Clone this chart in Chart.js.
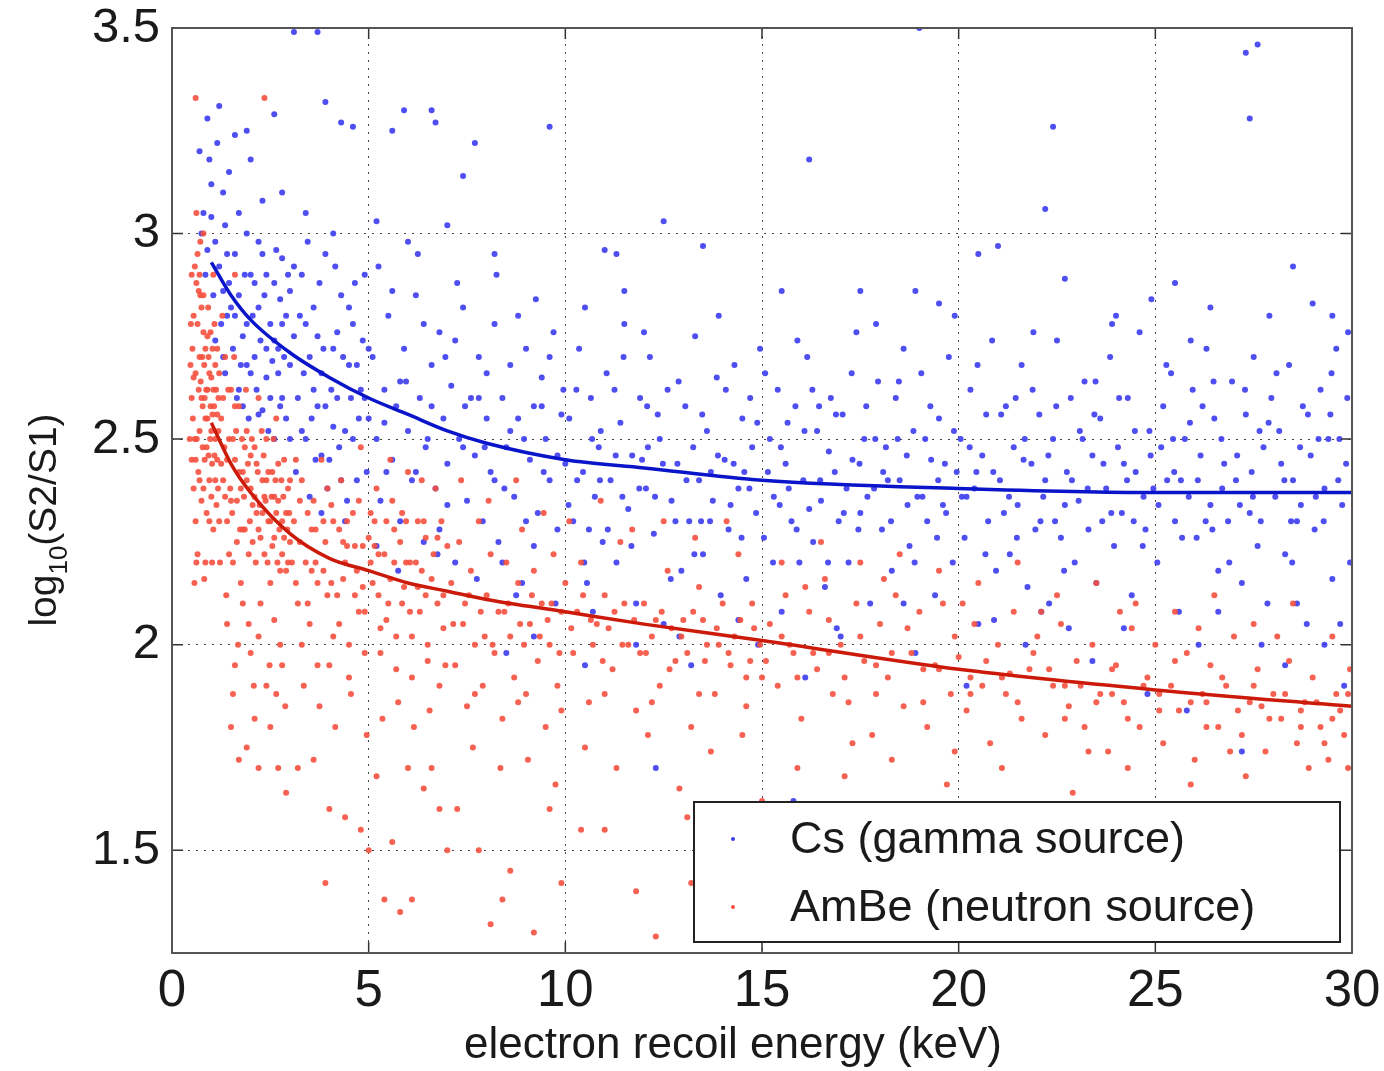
<!DOCTYPE html>
<html>
<head>
<meta charset="utf-8">
<script src="https://cdn.jsdelivr.net/npm/chart.js@4.4.1/dist/chart.umd.min.js"></script>
<style>
  html, body { margin: 0; padding: 0; background: #fff; }
  #wrap { width: 1384px; height: 1071px; }
</style>
</head>
<body>
<div id="wrap"><canvas id="chart" width="1384" height="1071"></canvas></div>
<script>
// axis ticks
const xTicks = [0, 5, 10, 15, 20, 25, 30];
const yTicks = [1.5, 2, 2.5, 3, 3.5];

// Cs (gamma source) events, [energy keV, log10(S2/S1)]
const csPoints = [
  [0.7,3.2],[0.8,3.05],[0.9,3.28],[1.0,3.12],[1.1,2.98],[0.85,2.9],[1.2,3.31],[1.3,3.1],[1.4,2.95],[0.95,3.18],
  [1.05,2.85],[1.25,2.78],[1.35,3.02],[1.45,2.88],[0.75,3.0],[1.15,3.22],[1.5,2.82],[1.3,2.7],[1.1,2.74],[1.45,3.15],
  [0.9,2.96],[1.2,2.92],[1.4,2.8],[1.0,3.04],[1.35,2.66],
  [1.6,3.24],[1.9,3.25],[2.0,3.18],[2.6,3.29],[3.1,3.49],[3.7,3.49],[3.9,3.32],[4.3,3.27],[4.6,3.26],[5.6,3.25],
  [5.9,3.3],[6.6,3.3],[6.7,3.27],[7.4,3.14],[7.7,3.22],[2.3,3.08],[2.8,3.1],[3.4,3.05],[4.1,3.0],[5.2,3.03],
  [6.0,2.98],[7.0,3.02],[8.2,2.95],[9.6,3.26],[12.5,3.03],[13.5,2.97],[11.0,2.96],[11.3,2.95],[16.2,3.18],[19.0,3.5],
  [22.2,3.06],[22.4,3.26],[22.7,2.89],[21.0,2.97],[26.4,2.82],[27.3,3.44],[27.6,3.46],[27.4,3.28],[29.0,2.83],[29.5,2.8],
  [19.5,2.83],[24.0,2.8],[20.5,2.95],[17.5,2.86],[15.5,2.86],[25.5,2.88],[28.5,2.92],
  [1.6,2.95],[1.7,2.85],[1.8,2.75],[1.9,3.0],[2.0,2.9],[2.1,2.7],[2.2,2.82],[2.3,2.95],[2.4,2.65],[2.5,2.78],
  [2.6,2.88],[2.7,2.72],[2.8,2.6],[2.9,2.8],[3.0,2.68],[1.65,2.6],[1.75,2.68],[1.85,2.9],[1.95,2.55],[2.05,2.8],
  [2.15,2.62],[2.25,2.74],[2.35,2.85],[2.45,2.52],[2.55,2.69],[2.65,2.96],[2.75,2.58],[2.85,2.7],[2.95,2.9],[1.55,2.72],
  [1.7,3.05],[2.0,2.66],[2.2,2.98],[2.5,2.6],[2.75,2.84],[2.9,2.55],[1.9,2.78],[2.4,2.9],[2.6,2.5],[2.8,2.94],
  [1.8,2.58],[2.1,2.88],[2.3,2.57],[2.7,2.66],[3.0,2.86],
  [3.1,2.75],[3.2,2.6],[3.3,2.9],[3.4,2.5],[3.5,2.7],[3.6,2.82],[3.7,2.58],[3.8,2.66],[3.9,2.95],[4.0,2.45],
  [4.1,2.72],[4.2,2.6],[4.3,2.85],[4.4,2.52],[4.5,2.68],[4.6,2.78],[4.7,2.4],[4.8,2.62],[4.9,2.9],[5.0,2.55],
  [3.15,2.42],[3.25,2.8],[3.35,2.66],[3.45,2.98],[3.55,2.55],[3.65,2.45],[3.75,2.88],[3.85,2.72],[3.95,2.38],[4.05,2.62],
  [4.15,2.92],[4.25,2.48],[4.35,2.7],[4.45,2.35],[4.55,2.6],[4.65,2.88],[4.75,2.55],[4.85,2.74],[4.95,2.42],[3.1,2.92],
  [3.5,2.36],[3.9,2.58],[4.3,2.4],[4.7,2.68],[3.3,2.52],[3.7,2.75],[4.1,2.53],[4.5,2.82],[4.9,2.6],[3.8,2.32],
  [5.1,2.7],[5.2,2.5],[5.3,2.35],[5.4,2.62],[5.5,2.8],[5.6,2.45],[5.7,2.58],[5.8,2.3],[5.9,2.72],[6.0,2.52],
  [6.1,2.4],[6.2,2.85],[6.3,2.6],[6.4,2.25],[6.5,2.5],[6.6,2.68],[6.7,2.38],[6.8,2.76],[6.9,2.55],[7.0,2.44],
  [7.1,2.63],[7.2,2.2],[7.3,2.5],[7.4,2.82],[7.5,2.35],[7.6,2.6],[7.7,2.46],[7.8,2.7],[7.9,2.3],[8.0,2.55],
  [8.1,2.42],[8.2,2.78],[8.3,2.25],[8.4,2.6],[8.5,2.48],[8.6,2.68],[8.7,2.36],[8.8,2.55],[8.9,2.15],[9.0,2.72],
  [9.1,2.45],[9.2,2.58],[9.3,2.32],[9.4,2.65],[9.5,2.5],[9.6,2.4],[9.7,2.76],[9.8,2.28],[9.9,2.56],[10.0,2.44],
  [5.25,2.92],[5.75,2.18],[6.25,2.95],[6.75,2.22],[7.25,2.88],[7.75,2.16],[8.25,2.9],[8.75,2.12],[9.25,2.84],[9.75,2.1],
  [5.45,2.42],[5.95,2.64],[6.45,2.48],[6.95,2.7],[7.45,2.58],[7.95,2.48],[8.45,2.38],[8.95,2.5],[9.45,2.42],[9.95,2.62],
  [1.3,2.86],[1.6,2.8],[1.9,2.68],[2.2,2.56],[2.6,2.74],[3.0,2.5],[3.4,2.78],[3.8,2.46],[4.2,2.76],[4.6,2.5],
  [5.0,2.72],[5.4,2.54],[5.8,2.64],[6.2,2.42],[6.6,2.58],[7.0,2.34],[7.4,2.48],[7.8,2.6],[8.2,2.4],[8.6,2.52],
  [9.0,2.3],[9.4,2.58],[9.8,2.46],[5.6,2.86],[6.4,2.78],[7.2,2.74],[8.0,2.66],[8.8,2.8],[9.6,2.7],[4.4,2.3],
  [5.2,2.24],[6.8,2.28],[8.4,2.2],[9.2,2.24],[3.6,2.62],[2.4,2.72],[1.7,2.62],[2.8,2.78],
  [10.1,2.55],[10.2,2.3],[10.35,2.72],[10.45,2.42],[10.55,2.15],[10.65,2.6],[10.75,2.36],[10.85,2.48],[10.95,2.25],
  [11.05,2.66],[11.15,2.4],[11.3,2.2],[11.4,2.54],[11.5,2.78],[11.6,2.33],[11.7,2.46],[11.8,2.1],[11.9,2.6],
  [12.05,2.38],[12.15,2.7],[12.25,2.27],[12.4,2.5],[12.5,2.05],[12.6,2.62],[12.7,2.35],[12.85,2.44],[12.95,2.18],
  [13.05,2.58],[13.15,2.3],[13.3,2.75],[13.4,2.4],[13.5,2.22],[13.6,2.52],[13.75,2.35],[13.85,2.65],[13.95,2.12],
  [14.05,2.45],[14.15,2.28],[14.3,2.68],[14.4,2.38],[14.5,2.55],[14.6,2.16],[14.75,2.48],[14.85,2.32],[14.95,2.72],
  [15.05,2.26],[15.2,2.5],[15.3,2.36],[15.4,2.62],[15.5,2.08],[15.6,2.44],[15.75,2.3],[15.85,2.58],[15.95,2.2],
  [16.05,2.4],[16.15,2.7],[16.3,2.25],[16.4,2.52],[16.5,2.35],[16.6,2.14],[16.75,2.6],[16.85,2.42],[16.95,2.3],
  [17.05,2.56],[17.2,2.2],[17.3,2.45],[17.4,2.76],[17.5,2.32],[17.6,2.5],[17.75,2.1],[17.85,2.38],[17.95,2.64],
  [18.05,2.28],[18.15,2.48],[18.3,2.18],[18.4,2.6],[18.5,2.4],[18.6,2.72],[18.75,2.24],[18.85,2.52],[18.95,2.36],
  [19.05,2.66],[19.2,2.3],[19.3,2.45],[19.4,2.12],[19.5,2.55],[19.6,2.34],[19.75,2.7],[19.85,2.2],[19.95,2.42],
  [20.05,2.5],[20.15,2.26],[20.3,2.62],[20.4,2.38],[20.5,2.05],[20.6,2.46],[20.75,2.3],[20.85,2.74],[20.95,2.18],
  [21.05,2.4],[21.2,2.58],[21.3,2.22],[21.4,2.48],[21.5,2.34],[21.6,2.68],[21.75,2.14],[21.85,2.44],[21.95,2.28],
  [22.05,2.56],[22.15,2.36],[22.3,2.1],[22.4,2.5],[22.5,2.74],[22.6,2.26],[22.75,2.42],[22.85,2.6],[22.95,2.2],
  [23.05,2.35],[23.2,2.64],[23.3,2.28],[23.4,2.46],[23.5,2.15],[23.6,2.55],[23.75,2.38],[23.85,2.7],[23.95,2.24],
  [24.05,2.48],[24.15,2.32],[24.3,2.6],[24.4,2.12],[24.5,2.42],[24.6,2.76],[24.75,2.28],[24.85,2.52],[24.95,2.38],
  [25.05,2.2],[25.2,2.58],[25.3,2.4],[25.4,2.66],[25.5,2.3],[25.6,2.08],[25.75,2.5],[25.85,2.36],[25.95,2.62],
  [26.05,2.26],[26.15,2.46],[26.3,2.72],[26.4,2.34],[26.5,2.55],[26.6,2.18],[26.75,2.44],[26.85,2.3],[26.95,2.64],
  [27.05,2.4],[27.2,2.15],[27.3,2.56],[27.4,2.32],[27.5,2.7],[27.6,2.24],[27.75,2.48],[27.85,2.1],[27.95,2.6],
  [28.05,2.36],[28.15,2.52],[28.3,2.22],[28.4,2.68],[28.5,2.4],[28.6,2.3],[28.75,2.58],[28.85,2.05],[28.95,2.46],
  [29.05,2.28],[29.2,2.62],[29.3,2.38],[29.4,2.5],[29.5,2.16],[29.6,2.72],[29.75,2.34],[29.85,2.44],[29.95,2.2],
  [10.3,2.4],[10.9,2.52],[11.45,2.36],[11.95,2.45],[12.35,2.56],[12.8,2.3],[13.25,2.48],[13.7,2.42],[14.2,2.34],[14.7,2.6],
  [15.15,2.42],[15.65,2.54],[16.2,2.33],[16.7,2.47],[17.15,2.38],[17.65,2.58],[18.2,2.4],[18.7,2.34],[19.15,2.5],[19.65,2.44],
  [20.2,2.36],[20.7,2.56],[21.15,2.32],[21.65,2.45],[22.2,2.4],[22.7,2.34],[23.15,2.5],[23.65,2.3],[24.2,2.44],[24.7,2.36],
  [25.15,2.48],[25.65,2.4],[26.2,2.58],[26.7,2.38],[27.15,2.34],[27.65,2.52],[28.2,2.44],[28.7,2.34],[29.15,2.5],[29.65,2.4],
  [10.6,2.28],[11.25,2.62],[12.1,2.48],[13.45,2.3],[14.55,2.42],[15.45,2.34],[16.45,2.58],[17.45,2.28],[18.45,2.5],[19.45,2.26],
  [20.45,2.42],[21.45,2.6],[22.45,2.3],[23.45,2.56],[24.45,2.3],[25.45,2.5],[26.45,2.28],[27.45,2.42],[28.45,2.3],[29.45,2.56],
  [10.08,2.34],[10.28,2.62],[10.48,2.2],[10.68,2.5],[10.88,2.4],[11.08,2.28],[11.28,2.46],[11.48,2.7],[11.68,2.24],[11.88,2.38],
  [12.08,2.58],[12.28,2.36],[12.48,2.44],[12.68,2.16],[12.88,2.64],[13.08,2.4],[13.28,2.22],[13.48,2.56],[13.68,2.3],[13.88,2.46],
  [14.08,2.62],[14.28,2.44],[14.48,2.26],[14.68,2.38],[14.88,2.54],[15.08,2.66],[15.28,2.2],[15.48,2.48],[15.68,2.38],[15.88,2.28],
  [16.08,2.52],[16.28,2.62],[16.48,2.4],[16.68,2.2],[16.88,2.56],[17.08,2.32],[17.28,2.66],[17.48,2.44],[17.68,2.36],[17.88,2.5],
  [18.08,2.42],[18.28,2.3],[18.48,2.64],[18.68,2.46],[18.88,2.2],[19.08,2.36],[19.28,2.58],[19.48,2.4],[19.68,2.32],[19.88,2.52],
  [20.08,2.36],[20.28,2.48],[20.48,2.68],[20.68,2.22],[20.88,2.42],[21.08,2.56],[21.28,2.36],[21.48,2.26],[21.68,2.5],[21.88,2.62],
  [22.08,2.3],[22.28,2.46],[22.48,2.58],[22.68,2.18],[22.88,2.4],[23.08,2.52],[23.28,2.38],[23.48,2.64],[23.68,2.44],[23.88,2.32],
  [24.08,2.6],[24.28,2.4],[24.48,2.52],[24.68,2.24],[24.88,2.46],[25.08,2.34],[25.28,2.68],[25.48,2.42],[25.68,2.26],[25.88,2.54],
  [26.08,2.4],[26.28,2.3],[26.48,2.64],[26.68,2.5],[26.88,2.2],[27.08,2.46],[27.28,2.62],[27.48,2.36],[27.68,2.3],[27.88,2.54],
  [28.08,2.66],[28.28,2.4],[28.48,2.2],[28.68,2.48],[28.88,2.56],[29.08,2.36],[29.28,2.3],[29.48,2.66],[29.68,2.5],[29.88,2.6],
  [10.5,2.82],[12.0,2.76],[13.9,2.8],[15.9,2.74],[17.9,2.78],[19.9,2.8],[21.9,2.76],[23.9,2.78],[25.9,2.74],[27.9,2.8],
  [29.9,2.76],[11.5,2.86],[18.9,2.86],[24.9,2.84],
  [10.7,2.08],[12.9,2.02],[14.4,2.06],[16.9,2.04],[18.6,2.1],[20.9,2.06],[22.1,2.08],[24.2,2.04],[26.6,2.08],[28.6,2.1],
  [29.7,2.05],[27.7,2.0],
  [8.5,1.98],[9.2,2.02],[10.5,1.95],[12.3,1.7],[13.2,1.95],[14.9,2.0],[16.1,1.92],[17.0,2.02],[18.9,1.98],[20.2,1.9],
  [21.7,2.0],[23.4,1.96],[24.8,1.88],[26.1,2.0],[27.2,1.74],[28.3,1.95],[29.3,2.0],[29.8,1.9],[25.8,1.84],[22.8,2.04],
  [15.8,1.62],[11.8,2.0]
];

// AmBe (neutron source) events, [energy keV, log10(S2/S1)]
const ambePoints = [
  [0.5,2.6],[0.55,2.8],[0.6,2.45],[0.65,2.95],[0.7,2.7],[0.75,2.35],[0.8,2.85],[0.85,2.55],[0.9,2.75],[0.95,2.4],
  [1.0,2.65],[1.05,2.9],[1.1,2.5],[1.15,2.72],[1.2,2.3],[0.52,2.72],[0.58,2.5],[0.62,2.88],[0.68,2.62],[0.72,2.98],
  [0.78,2.48],[0.82,2.68],[0.88,2.32],[0.92,2.82],[0.98,2.58],[1.02,2.44],[1.08,2.78],[1.12,2.62],[1.18,2.52],[0.55,2.38],
  [0.65,2.22],[0.75,2.6],[0.85,2.2],[0.95,2.66],[1.05,2.28],[1.15,2.45],[0.6,2.66],[0.7,2.52],[0.8,2.76],[0.9,2.55],
  [1.0,2.36],[1.1,2.68],[0.5,2.9],[0.62,3.05],[0.7,2.9],[0.8,3.0],[0.45,2.5],[0.48,2.78],[0.57,2.15],[0.67,2.42],
  [0.77,2.7],[0.87,2.62],[0.97,2.5],[1.07,2.58],[1.17,2.38],[0.6,3.33],[0.72,2.85],[0.83,2.6],[0.93,2.46],[1.03,2.72],
  [0.5,2.45],[0.55,2.65],[0.6,2.3],[0.65,2.78],[0.7,2.4],[0.75,2.82],[0.8,2.38],[0.85,2.72],[0.9,2.62],[0.95,2.3],
  [1.0,2.52],[1.05,2.62],[1.1,2.4],[1.15,2.56],[1.2,2.66],[1.25,2.44],[0.58,2.92],[0.68,2.86],[0.78,2.58],[0.88,2.48],
  [0.98,2.76],[1.08,2.46],[1.18,2.6],[0.53,2.55],[0.63,2.5],[0.73,2.64],[0.83,2.45],[0.93,2.7],[1.03,2.56],[1.13,2.34],
  [0.47,2.68],[0.62,2.2],[0.82,2.16],[1.02,2.2],[1.22,2.2],
  [1.25,2.55],[1.3,2.4],[1.35,2.7],[1.4,2.3],[1.45,2.5],[1.5,2.62],[1.55,2.2],[1.6,2.45],[1.65,2.35],[1.7,2.58],
  [1.75,2.15],[1.8,2.42],[1.85,2.28],[1.9,2.52],[1.95,2.05],[2.0,2.38],[2.05,2.25],[2.1,2.48],[2.15,2.32],[2.2,2.6],
  [2.25,2.1],[2.3,2.4],[2.35,2.22],[2.4,2.5],[2.45,2.3],[2.5,2.15],[2.55,2.42],[2.6,2.26],[2.65,2.55],[2.7,2.35],
  [2.75,2.0],[2.8,2.3],[2.85,2.45],[2.9,2.18],[2.95,2.38],[3.0,2.25],[1.28,2.8],[1.38,2.12],[1.48,2.38],[1.58,2.7],
  [1.68,2.0],[1.78,2.5],[1.88,2.62],[1.98,2.3],[2.08,1.9],[2.18,2.42],[2.28,2.52],[2.38,2.35],[2.48,1.95],[2.58,2.5],
  [2.68,2.2],[2.78,2.4],[2.88,1.85],[2.98,2.32],[1.33,2.48],[1.43,2.62],[1.53,2.32],[1.63,2.52],[1.73,2.28],[1.83,2.36],
  [1.93,2.44],[2.03,2.5],[2.13,2.2],[2.23,2.34],[2.33,2.46],[2.43,2.2],[2.53,2.36],[2.63,2.4],[2.73,2.28],[2.83,2.36],
  [2.93,2.28],[1.5,1.8],[1.7,1.72],[1.9,1.75],[2.2,1.7],[2.5,1.8],[2.7,1.7],[2.9,1.64],[2.35,3.33],[1.6,2.9],
  [1.3,2.6],[1.4,2.45],[1.5,2.35],[1.6,2.58],[1.7,2.42],[1.8,2.28],[1.9,2.4],[2.0,2.46],[2.1,2.36],[2.2,2.28],
  [2.3,2.32],[2.4,2.4],[2.5,2.3],[2.6,2.36],[2.7,2.44],[2.8,2.22],[2.9,2.32],[3.0,2.4],[1.35,2.36],[1.45,2.22],
  [1.55,2.5],[1.65,2.25],[1.75,2.38],[1.85,2.48],[1.95,2.22],[2.05,2.34],[2.15,2.44],[2.25,2.26],[2.35,2.36],[2.45,2.42],
  [2.55,2.24],[2.65,2.32],[2.75,2.18],[2.85,2.26],[2.95,2.2],[1.4,2.05],[1.6,1.95],[1.8,2.1],[2.0,1.98],[2.2,2.02],
  [2.4,1.9],[2.6,2.06],[2.8,1.95],[1.55,1.88],[2.1,1.82],[2.65,1.88],
  [3.1,2.3],[3.2,2.1],[3.3,2.4],[3.4,2.2],[3.5,2.05],[3.6,2.35],[3.7,2.15],[3.8,2.45],[3.9,2.25],[4.0,1.95],
  [4.1,2.3],[4.2,2.12],[4.3,2.4],[4.4,2.2],[4.5,2.0],[4.6,2.32],[4.7,2.18],[4.8,2.48],[4.9,2.08],[5.0,2.26],
  [5.1,2.15],[5.2,2.38],[5.3,1.98],[5.4,2.22],[5.5,2.1],[5.6,2.35],[5.7,2.02],[5.8,2.25],[5.9,2.14],[6.0,2.42],
  [6.1,1.92],[6.2,2.2],[6.3,2.08],[6.4,2.3],[6.5,2.0],[6.6,2.16],[6.7,2.38],[6.8,1.9],[6.9,2.12],[7.0,2.24],
  [3.15,2.45],[3.35,1.9],[3.55,2.28],[3.75,1.85],[3.95,2.38],[4.15,1.8],[4.35,2.25],[4.55,1.88],[4.75,2.35],[4.95,1.78],
  [5.15,2.3],[5.35,1.82],[5.55,2.45],[5.75,1.86],[5.95,2.3],[6.15,1.8],[6.35,2.4],[6.55,1.84],[6.75,2.26],[6.95,1.95],
  [3.25,2.25],[3.45,2.32],[3.65,2.2],[3.85,2.3],[4.05,2.15],[4.25,2.28],[4.45,2.24],[4.65,2.12],[4.85,2.24],[5.05,2.2],
  [5.25,2.12],[5.45,2.3],[5.65,2.2],[5.85,2.1],[6.05,2.2],[6.25,2.3],[6.45,2.12],[3.2,1.7],[3.6,1.72],[4.0,1.6],
  [4.4,1.58],[4.8,1.55],[5.2,1.68],[5.6,1.52],[6.0,1.7],[6.4,1.65],[6.8,1.6],[3.9,1.42],[5.0,1.5],[5.4,1.38],
  [6.6,1.7],[7.0,1.5],[5.8,1.35],[6.1,1.38],
  [3.05,2.2],[3.25,2.35],[3.45,2.1],[3.65,2.28],[3.85,2.18],[4.05,2.34],[4.25,2.05],[4.45,2.3],[4.65,2.24],[4.85,2.14],
  [5.05,2.32],[5.25,2.22],[5.45,2.06],[5.65,2.28],[5.85,2.32],[6.05,2.08],[6.25,2.14],[6.45,2.26],[6.65,2.22],[6.85,2.3],
  [3.15,2.15],[3.55,2.18],[3.95,2.12],[4.35,2.16],[4.75,2.08],[5.15,2.24],[5.55,2.16],[5.95,2.2],[6.35,2.18],[6.75,2.1],
  [3.3,2.0],[3.7,1.95],[4.1,2.02],[4.5,1.92],[4.9,1.98],[5.3,2.04],[5.7,1.94],[6.1,2.02],[6.5,1.96],[6.9,2.04],
  [7.1,2.15],[7.2,1.95],[7.3,2.25],[7.4,2.05],[7.5,1.85],[7.6,2.18],[7.7,2.0],[7.8,2.3],[7.9,1.9],[8.0,2.12],
  [8.1,2.22],[8.2,1.98],[8.3,2.08],[8.4,1.82],[8.5,2.2],[8.6,2.02],[8.7,1.92],[8.8,2.15],[8.9,2.28],[9.0,1.88],
  [9.1,2.05],[9.2,2.18],[9.3,1.96],[9.4,2.1],[9.5,1.8],[9.6,2.0],[9.7,2.22],[9.8,1.9],[9.9,2.08],[10.0,2.15],
  [10.2,1.98],[10.4,2.2],[10.6,1.86],[10.8,2.05],[11.0,2.12],[11.2,1.94],[11.4,2.25],[11.6,2.0],[11.8,1.84],[12.0,2.1],
  [12.2,2.02],[12.4,1.9],[12.6,2.18],[12.8,1.96],[13.0,2.06],[13.2,1.8],[13.4,2.14],[13.6,2.0],[13.8,1.88],[14.0,2.1],
  [14.2,1.95],[14.4,2.22],[14.6,1.85],[14.8,2.04],[15.0,1.92],[7.35,2.4],[8.05,2.35],[8.75,2.4],[9.45,2.32],[10.1,2.3],
  [10.9,2.35],[11.7,2.28],[12.5,2.3],[13.3,2.26],[14.1,2.3],[7.65,1.75],[8.35,1.7],[9.05,1.72],[9.75,1.66],[10.5,1.75],
  [11.3,1.7],[12.1,1.78],[12.9,1.65],[13.7,1.74],[14.5,1.78],[7.25,1.6],[7.8,1.5],[8.6,1.45],[8.1,1.32],[8.4,1.38],
  [9.2,1.3],[9.9,1.42],[10.4,1.55],[11.8,1.4],[12.3,1.29],[13.2,1.42],[13.1,1.58],[14.3,1.33],[15.0,1.62],[9.6,1.6],
  [11.0,1.55],[7.45,2.1],[7.95,2.02],[8.45,2.08],[8.95,2.0],[9.55,2.06],[10.3,2.08],[10.7,2.0],[11.1,2.04],[11.5,2.1],
  [11.9,1.98],[12.3,2.06],[12.7,2.04],[13.1,1.98],[13.5,2.06],[13.9,2.0],[14.3,2.02],[14.7,1.96],
  [7.15,2.05],[7.55,2.12],[7.85,2.08],[8.15,2.0],[8.55,2.1],[8.85,2.05],[9.15,2.12],[9.35,2.02],[9.65,2.1],[9.85,1.98],
  [10.15,2.04],[10.45,2.12],[10.65,2.06],[10.95,1.96],[11.25,2.08],[11.45,2.0],[11.75,2.06],[12.05,1.98],[12.45,2.08],[12.65,1.94],
  [12.95,2.02],[13.25,2.08],[13.55,1.96],[13.85,2.04],[14.15,1.98],[14.45,2.06],[14.75,2.1],[14.95,2.0],[7.7,1.88],[8.8,1.86],
  [9.9,1.84],[11.0,1.88],[12.2,1.86],[13.4,1.88],[14.6,1.92],
  [15.2,2.05],[15.4,1.9],[15.6,2.12],[15.8,1.98],[16.0,1.82],[16.2,2.08],[16.4,1.94],[16.6,2.16],[16.8,1.88],[17.0,2.0],
  [17.2,1.86],[17.4,2.1],[17.6,1.96],[17.8,1.78],[18.0,2.05],[18.2,1.92],[18.4,2.12],[18.6,1.85],[18.8,1.98],[19.0,2.08],
  [19.2,1.8],[19.4,1.95],[19.6,2.1],[19.8,1.88],[20.0,1.97],[20.2,1.84],[20.4,2.05],[20.6,1.9],[20.8,1.76],[21.0,2.0],
  [21.2,1.88],[21.4,2.08],[21.6,1.82],[21.8,1.94],[22.0,2.02],[22.2,1.78],[22.4,1.9],[22.6,2.05],[22.8,1.85],[23.0,1.96],
  [23.2,1.8],[23.4,2.0],[23.6,1.88],[23.8,1.74],[24.0,1.95],[24.2,1.86],[24.4,2.04],[24.6,1.8],[24.8,1.92],[25.0,2.0],
  [25.2,1.76],[25.4,1.9],[25.6,1.84],[25.8,1.98],[26.0,1.72],[26.2,1.88],[26.4,1.95],[26.6,1.8],[26.8,1.9],[27.0,2.02],
  [27.2,1.78],[27.4,1.86],[27.6,1.94],[27.8,1.74],[28.0,1.88],[28.2,1.82],[28.4,1.96],[28.6,1.76],[28.8,1.86],[29.0,1.92],
  [29.2,1.8],[29.4,1.72],[29.6,1.88],[29.8,1.78],[29.95,1.94],
  [15.5,2.2],[16.5,2.25],[17.5,2.2],[18.5,2.22],[19.5,2.18],[20.5,2.15],[21.5,2.2],[22.5,2.12],[23.5,2.15],[24.5,2.1],
  [25.5,2.08],[26.5,2.12],[27.5,2.05],[28.5,2.1],[29.5,2.02],
  [15.9,1.7],[17.1,1.68],[18.3,1.72],[19.7,1.66],[21.1,1.7],[22.9,1.64],[24.3,1.7],[25.9,1.66],[27.3,1.68],[28.9,1.7],
  [29.9,1.7],[16.3,1.5],[17.7,1.55],[19.3,1.6],[20.9,1.45],[18.1,1.35],[15.3,1.4],
  [15.7,2.0],[16.7,1.98],[17.9,1.95],[19.1,1.94],[20.3,1.92],[21.3,1.93],[22.7,1.9],[23.9,1.88],[25.1,1.88],[26.3,1.86],
  [27.7,1.85],[28.7,1.84],[29.7,1.84],
  [15.1,1.96],[15.5,2.02],[15.9,1.92],[16.3,1.98],[16.7,2.06],[17.1,1.92],[17.5,2.02],[17.9,1.88],[18.3,1.98],[18.7,2.04],
  [19.1,1.86],[19.5,1.94],[19.9,2.02],[20.3,1.88],[20.7,1.96],[21.1,1.92],[21.5,1.86],[21.9,1.98],[22.3,1.94],[22.7,1.82],
  [23.1,1.9],[23.5,1.86],[23.9,1.94],[24.3,1.82],[24.7,1.9],[25.1,1.84],[25.5,1.96],[25.9,1.86],[26.3,1.8],[26.7,1.92],
  [27.1,1.84],[27.5,1.9],[27.9,1.82],[28.3,1.88],[28.7,1.8],[29.1,1.86],[29.5,1.82],[29.9,1.88],[16.1,2.14],[18.1,2.16],
  [20.1,2.1],[22.1,2.08],[24.1,2.08],[26.1,2.04],[28.1,2.02],[17.3,1.76],[19.9,1.74],[23.3,1.74],[26.9,1.74],[29.3,1.76]
];

// fitted band centres
const fitEnergy = [1, 1.5, 2, 3, 4, 5, 6, 7, 8, 10, 12, 15, 20, 25, 30];
const csFit     = [2.93, 2.85, 2.79, 2.71, 2.65, 2.60, 2.56, 2.52, 2.49, 2.45, 2.43, 2.40, 2.38, 2.37, 2.37];
const ambeFit   = [2.54, 2.44, 2.37, 2.27, 2.21, 2.18, 2.15, 2.13, 2.11, 2.08, 2.05, 2.01, 1.94, 1.89, 1.85];

const legendItems = [
  { label: 'Cs (gamma source)',     color: '#3b3bf0' },
  { label: 'AmBe (neutron source)', color: '#f5503f' },
];

const FONT = '"Liberation Sans", Arial, Helvetica, sans-serif';
const TEXT = '#1a1a1a';

const toXY = arr => arr.map(p => ({ x: p[0], y: p[1] }));

const overlay = {
  id: 'overlay',
  afterDraw(chart) {
    const { ctx, chartArea: a, scales: { x, y } } = chart;
    ctx.save();

    // inward tick marks on all four sides
    ctx.strokeStyle = '#333';
    ctx.lineWidth = 1.5;
    ctx.beginPath();
    xTicks.forEach(v => {
      const px = x.getPixelForValue(v);
      ctx.moveTo(px, a.bottom); ctx.lineTo(px, a.bottom - 11);
      ctx.moveTo(px, a.top);    ctx.lineTo(px, a.top + 11);
    });
    yTicks.forEach(v => {
      const py = y.getPixelForValue(v);
      ctx.moveTo(a.left, py);  ctx.lineTo(a.left + 11, py);
      ctx.moveTo(a.right, py); ctx.lineTo(a.right - 11, py);
    });
    ctx.stroke();

    // frame
    ctx.strokeStyle = '#555';
    ctx.lineWidth = 2;
    ctx.strokeRect(a.left, a.top, a.width, a.height);

    // legend box
    const lx = 694, ly = 802, lw = 646, lh = 140;
    ctx.fillStyle = '#fff';
    ctx.fillRect(lx, ly, lw, lh);
    ctx.strokeStyle = '#222';
    ctx.lineWidth = 2;
    ctx.strokeRect(lx, ly, lw, lh);
    ctx.font = '45px ' + FONT;
    ctx.textBaseline = 'middle';
    ctx.textAlign = 'left';
    legendItems.forEach((it, i) => {
      const cy = ly + 37 + i * 68;
      ctx.fillStyle = it.color;
      ctx.beginPath();
      ctx.arc(lx + 39, cy, 2, 0, Math.PI * 2);
      ctx.fill();
      ctx.fillStyle = TEXT;
      ctx.fillText(it.label, lx + 96, cy + 2);
    });

    // x title
    ctx.font = '44px ' + FONT;
    ctx.textAlign = 'center';
    ctx.textBaseline = 'alphabetic';
    ctx.fillText('electron recoil energy (keV)', 733, 1058);

    // y title with subscript
    ctx.translate(56, 520);
    ctx.rotate(-Math.PI / 2);
    const big = '39px ' + FONT, small = '26px ' + FONT;
    ctx.font = big;  const w1 = ctx.measureText('log').width;
    ctx.font = small; const w2 = ctx.measureText('10').width;
    ctx.font = big;  const w3 = ctx.measureText('(S2/S1)').width;
    let sx = -(w1 + w2 + w3) / 2;
    ctx.textAlign = 'left';
    ctx.font = big;  ctx.fillText('log', sx, 0); sx += w1;
    ctx.font = small; ctx.fillText('10', sx, 11); sx += w2;
    ctx.font = big;  ctx.fillText('(S2/S1)', sx, 0);

    ctx.restore();
  }
};

new Chart(document.getElementById('chart'), {
  type: 'scatter',
  data: {
    datasets: [
      {
        type: 'line', label: 'Cs fit', data: fitEnergy.map((e, i) => ({ x: e, y: csFit[i] })),
        borderColor: '#0a14c8', borderWidth: 3.5, pointRadius: 0, cubicInterpolationMode: 'monotone',
        fill: false, order: 0,
      },
      {
        type: 'line', label: 'AmBe fit', data: fitEnergy.map((e, i) => ({ x: e, y: ambeFit[i] })),
        borderColor: '#cc1a0a', borderWidth: 3.5, pointRadius: 0, cubicInterpolationMode: 'monotone',
        fill: false, order: 0,
      },
      {
        label: legendItems[1].label, data: toXY(ambePoints),
        backgroundColor: 'rgba(245,80,63,0.9)', borderWidth: 0, pointRadius: 3, order: 1,
      },
      {
        label: legendItems[0].label, data: toXY(csPoints),
        backgroundColor: 'rgba(59,59,240,0.9)', borderWidth: 0, pointRadius: 3, order: 2,
      },
    ],
  },
  options: {
    responsive: false,
    animation: false,
    layout: { padding: { top: 28, right: 32, left: 0, bottom: 0 } },
    plugins: { legend: { display: false }, tooltip: { enabled: false } },
    scales: {
      x: {
        type: 'linear', min: 0, max: 30,
        afterFit: s => { s.height = 118; s.paddingLeft = 0; s.paddingRight = 0; },
        afterBuildTicks: s => { s.ticks = xTicks.map(v => ({ value: v })); },
        grid: { color: '#444', lineWidth: 1, drawTicks: false },
        border: { display: false, dash: [2, 6] },
        ticks: { color: TEXT, font: { family: FONT, size: 51 }, padding: 8, maxRotation: 0 },
      },
      y: {
        type: 'linear', min: 1.25, max: 3.5,
        afterFit: s => { s.width = 172; s.paddingTop = 0; s.paddingBottom = 0; },
        afterBuildTicks: s => { s.ticks = yTicks.map(v => ({ value: v })); },
        grid: { color: '#444', lineWidth: 1, drawTicks: false },
        border: { display: false, dash: [2, 6] },
        ticks: { color: TEXT, font: { family: FONT, size: 49 }, padding: 12, callback: v => String(v) },
      },
    },
  },
  plugins: [overlay],
});
</script>
</body>
</html>
